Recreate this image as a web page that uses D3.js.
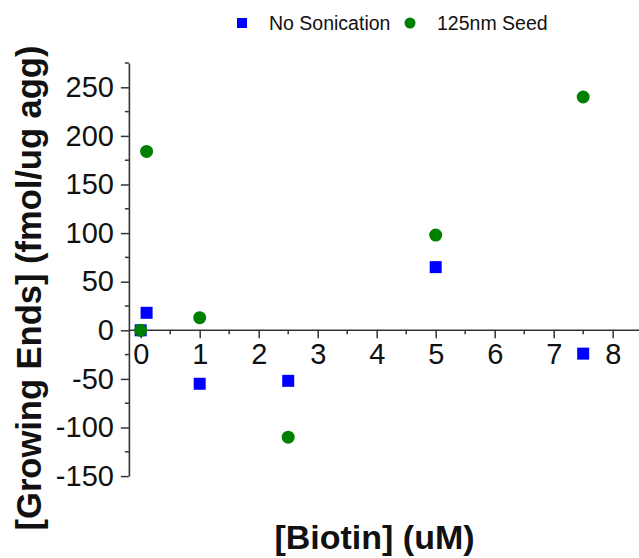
<!DOCTYPE html>
<html>
<head>
<meta charset="utf-8">
<script src="https://cdn.jsdelivr.net/npm/d3@7"></script>
<style>
  html, body { margin: 0; padding: 0; background: #fff; }
  svg { display: block; }
  text { font-family: "Liberation Sans", Arial, sans-serif; }
</style>
</head>
<body>
<script>
// ---- data ----
const biotinNoSonication = [0, 0.1, 1, 2.5, 5, 7.5];
const endsNoSonication   = [0, 18, -55, -52, 65, -24];
const biotinSeed = [0, 0.1, 1, 2.5, 5, 7.5];
const endsSeed   = [0, 184, 13, -110, 98, 240];
const xTickValues = [0, 1, 2, 3, 4, 5, 6, 7, 8];
const yTickValues = [-150, -100, -50, 0, 50, 100, 150, 200, 250];
const seriesNames = ["No Sonication", "125nm Seed"];

const W = 639, H = 558;
const svg = d3.select("body").append("svg").attr("width", W).attr("height", H);

const x = d3.scaleLinear().domain([-0.2, 8]).range([128.9, 612.7]);
const y = d3.scaleLinear().domain([-150, 275]).range([476.1, 63.0]);
const axisColor = "#333";
const plain = d => String(d);

// y axis
const yAxis = d3.axisLeft(y).tickValues(yTickValues).tickFormat(plain).tickSize(8).tickPadding(7).tickSizeOuter(0);
const gy = svg.append("g").attr("transform", `translate(${x(-0.2)},0)`).call(yAxis);
gy.select(".domain").attr("stroke", axisColor).attr("stroke-width", 1.6);
gy.selectAll(".tick line").attr("stroke", axisColor).attr("stroke-width", 1.5);
gy.selectAll(".tick text").attr("font-size", 29).attr("fill", "#111")
  .attr("font-family", "'Liberation Sans', Arial, sans-serif");
// y minor ticks
const yMinor = d3.range(-125, 276, 50);
gy.selectAll(".minor").data(yMinor).enter().append("line")
  .attr("x1", 0).attr("x2", -4).attr("y1", d => y(d)).attr("y2", d => y(d))
  .attr("stroke", axisColor).attr("stroke-width", 1.5);

// x axis (crosses at y = 0)
const xAxis = d3.axisBottom(x).tickValues(xTickValues).tickFormat(plain).tickSize(8).tickPadding(5).tickSizeOuter(0);
const gx = svg.append("g").attr("transform", `translate(0,${y(0)})`).call(xAxis);
gx.select(".domain").attr("d", `M${x(-0.2)},0H${W}`).attr("stroke", axisColor).attr("stroke-width", 1.6);
gx.selectAll(".tick line").attr("stroke", axisColor).attr("stroke-width", 1.5);
gx.selectAll(".tick text").attr("font-size", 29).attr("fill", "#111")
  .attr("font-family", "'Liberation Sans', Arial, sans-serif");
const xMinor = d3.range(0.5, 8.6, 1);
gx.selectAll(".minor").data(xMinor).enter().append("line")
  .attr("x1", d => x(d)).attr("x2", d => x(d)).attr("y1", 0).attr("y2", 4)
  .attr("stroke", axisColor).attr("stroke-width", 1.5);

// data: squares
const sq = 12;
svg.append("g").selectAll("rect")
  .data(biotinNoSonication.map((b, i) => [b, endsNoSonication[i]]))
  .enter().append("rect")
  .attr("x", d => x(d[0]) - sq / 2).attr("y", d => y(d[1]) - sq / 2)
  .attr("width", sq).attr("height", sq).attr("fill", "#0000ff");

// data: circles
svg.append("g").selectAll("circle")
  .data(biotinSeed.map((b, i) => [b, endsSeed[i]]))
  .enter().append("circle")
  .attr("cx", d => x(d[0])).attr("cy", d => y(d[1])).attr("r", 6.5)
  .attr("fill", "#008000");

// legend
const lg = svg.append("g");
lg.append("rect").attr("x", 237).attr("y", 18).attr("width", 10).attr("height", 10).attr("fill", "#0000ff");
lg.append("text").attr("x", 269).attr("y", 30).attr("font-size", 19.5).attr("fill", "#111").text(seriesNames[0]);
lg.append("circle").attr("cx", 410).attr("cy", 23).attr("r", 5.5).attr("fill", "#008000");
lg.append("text").attr("x", 437).attr("y", 30).attr("font-size", 19.5).attr("fill", "#111").text(seriesNames[1]);

// axis titles
svg.append("text").attr("x", 374.5).attr("y", 549).attr("text-anchor", "middle")
  .attr("font-size", 34).attr("font-weight", "bold").attr("fill", "#111").text("[Biotin] (uM)");
svg.append("text").attr("transform", "translate(41,288) rotate(-90)").attr("text-anchor", "middle")
  .attr("font-size", 34.5).attr("font-weight", "bold").attr("fill", "#111").text("[Growing Ends] (fmol/ug agg)");
</script>
</body>
</html>
